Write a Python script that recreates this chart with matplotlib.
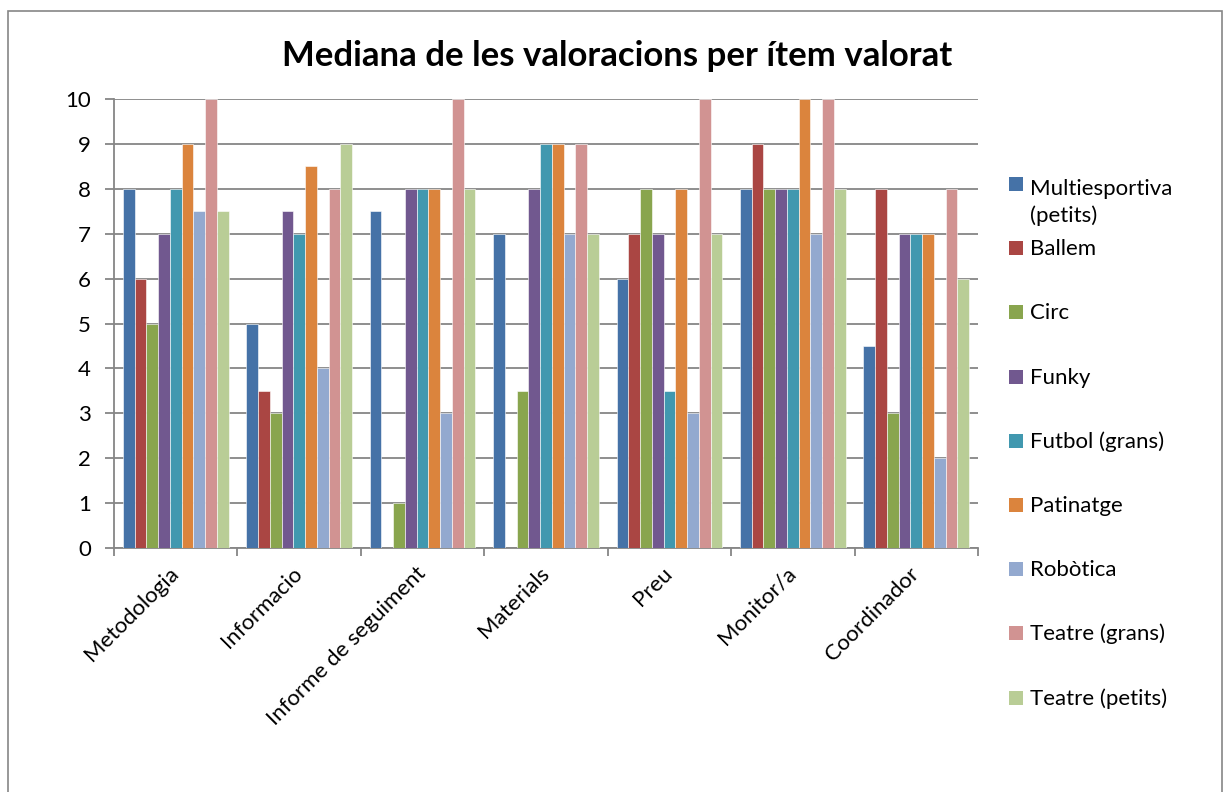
import matplotlib
matplotlib.use("Agg")
import matplotlib.pyplot as plt
from matplotlib.patches import Rectangle
import numpy as np

plt.rcParams['font.family'] = ['Lato', 'DejaVu Sans']

categories = ["Metodologia", "Informacio", "Informe de seguiment", "Materials",
              "Preu", "Monitor/a", "Coordinador"]
series_names = ["Multiesportiva\n(petits)", "Ballem", "Circ", "Funky", "Futbol (grans)",
                "Patinatge", "Robòtica", "Teatre (grans)", "Teatre (petits)"]
multiesportiva = [8, 5, 7.5, 7, 6, 8, 4.5]
ballem = [6, 3.5, 0, 0, 7, 9, 8]
circ = [5, 3, 1, 3.5, 8, 8, 3]
funky = [7, 7.5, 8, 8, 7, 8, 7]
futbol = [8, 7, 8, 9, 3.5, 8, 7]
patinatge = [9, 8.5, 8, 9, 8, 10, 7]
robotica = [7.5, 4, 3, 7, 3, 7, 2]
teatre_grans = [10, 8, 10, 9, 10, 10, 8]
teatre_petits = [7.5, 9, 8, 7, 7, 8, 6]
series_values = [multiesportiva, ballem, circ, funky, futbol, patinatge,
                 robotica, teatre_grans, teatre_petits]
colors = ["#4572A7", "#AA4643", "#89A54E", "#71588F", "#4198AF",
          "#DB843D", "#93A9CF", "#D19392", "#B9CD96"]
yticks = list(range(0, 11))

W, H = 1227, 792
fig = plt.figure(figsize=(W / 100, H / 100), dpi=100)

def fx(px):
    return px / W

def fy(py):
    return 1 - py / H

# outer chart border
fig.patches.append(Rectangle((fx(8), -0.02), fx(1222) - fx(8), fy(11) + 0.02,
                             transform=fig.transFigure, fill=False,
                             edgecolor="#868686", linewidth=1.2))

ax = fig.add_axes([fx(114), fy(548), fx(978) - fx(114), fy(99) - fy(548)])

n = len(series_values)
bw = 1 / 10.5
x = np.arange(len(categories))
for i, (vals, c) in enumerate(zip(series_values, colors)):
    ax.bar(x + (i - (n - 1) / 2) * bw, vals, width=bw, color=c,
           edgecolor="white", linewidth=0.4, zorder=3)

ax.set_xlim(-0.5, len(categories) - 0.5)
ax.set_ylim(0, 10)
ax.set_yticks(yticks)
ax.set_yticklabels([str(t) for t in yticks], fontsize=16)
ax.yaxis.grid(True, color="#868686", linewidth=1.3, zorder=0)
ax.set_axisbelow(True)
for s in ["top", "right"]:
    ax.spines[s].set_visible(False)
for s in ["left", "bottom"]:
    ax.spines[s].set_color("#868686")
    ax.spines[s].set_linewidth(1.3)
ax.tick_params(axis="y", length=6.5, width=1.3, color="#868686", pad=10)

ax.set_xticks(x)
ax.set_xticklabels(categories, fontsize=16, rotation=45, ha="right",
                   rotation_mode="anchor")
ax.tick_params(axis="x", which="major", length=0, pad=16)
ax.set_xticks(np.arange(len(categories) + 1) - 0.5, minor=True)
ax.tick_params(axis="x", which="minor", length=5.5, width=1.3, color="#868686")
for lbl in ax.get_xticklabels():
    lbl.set_va("center")

fig.text(fx(617), fy(56), "Mediana de les valoracions per ítem valorat",
         ha="center", va="center", fontsize=25, fontweight="bold")

# legend
line_px = 1.4 * 16 * 100 / 72
for i, (name, c) in enumerate(zip(series_names, colors)):
    yc = 184 + 64.2 * i
    fig.patches.append(Rectangle((fx(1009), fy(yc + 7)), fx(14), 14 / H,
                                 transform=fig.transFigure, facecolor=c,
                                 edgecolor="none"))
    extra = name.count("\n") * line_px
    fig.text(fx(1030), fy(yc + 7 + extra), name, ha="left", va="baseline",
             fontsize=16, linespacing=1.4)

fig.savefig("out.png", dpi=100)
